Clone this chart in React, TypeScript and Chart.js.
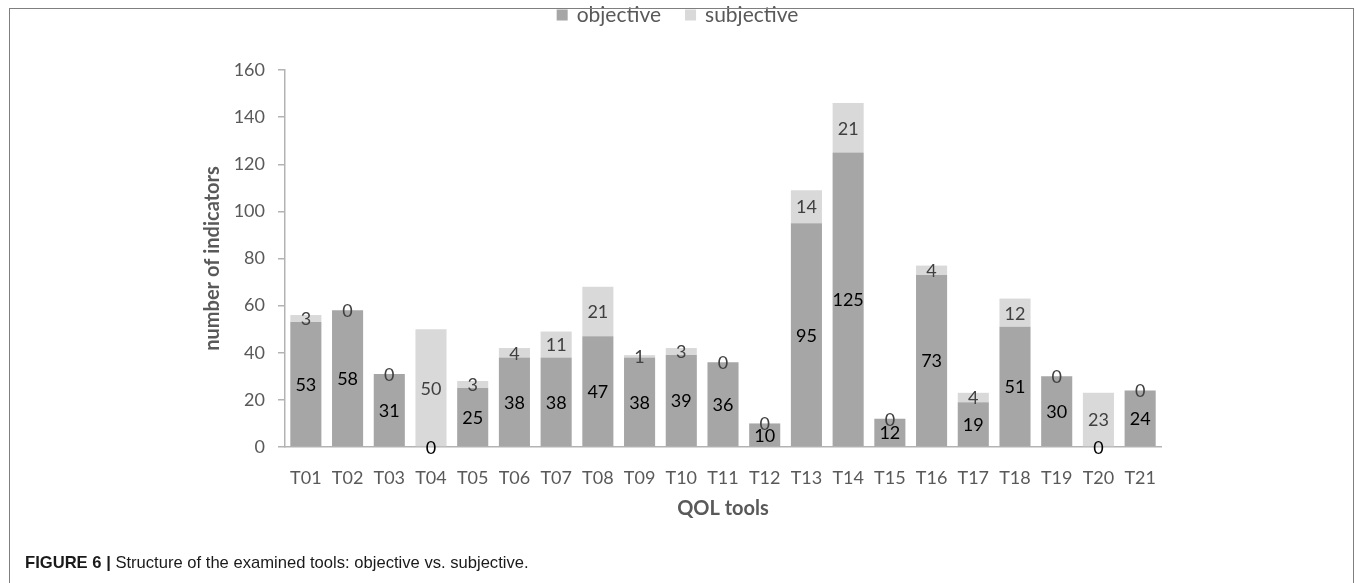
import React, { useEffect, useRef } from "react";
import { Chart, registerables } from "chart.js";

Chart.register(...registerables);

// QOL tools on the x axis
const categories = [
  "T01", "T02", "T03", "T04", "T05", "T06", "T07", "T08", "T09", "T10", "T11",
  "T12", "T13", "T14", "T15", "T16", "T17", "T18", "T19", "T20", "T21",
];

// number of objective indicators per tool
const objective = [53, 58, 31, 0, 25, 38, 38, 47, 38, 39, 36, 10, 95, 125, 12, 73, 19, 51, 30, 0, 24];

// number of subjective indicators per tool
const subjective = [3, 0, 0, 50, 3, 4, 11, 21, 1, 3, 0, 0, 14, 21, 0, 4, 4, 12, 0, 23, 0];

const seriesNames = ["objective", "subjective"];
const yMin = 0;
const yMax = 160;
const yStep = 20;

const FONT = "Lato, 'Open Sans', sans-serif";
const AXIS_TEXT = "#595959";
const AXIS_LINE = "#b3b3b3";
const OBJ_COLOR = "#a6a6a6";
const SUBJ_COLOR = "#d9d9d9";
const LABEL_COLORS = ["#000000", "#404040"];

// Writes each segment's value at the middle of its bar segment
const segmentLabels = {
  id: "segmentLabels",
  afterDatasetsDraw(chart: any) {
    const ctx = chart.ctx;
    ctx.save();
    ctx.font = `18px ${FONT}`;
    ctx.textAlign = "center";
    ctx.textBaseline = "middle";
    chart.data.datasets.forEach((ds: any, di: number) => {
      const meta = chart.getDatasetMeta(di);
      meta.data.forEach((bar: any, i: number) => {
        const { x, y, base } = bar.getProps(["x", "y", "base"], true);
        ctx.fillStyle = LABEL_COLORS[di];
        ctx.fillText(String(ds.data[i]), x, (y + base) / 2 + 1);
      });
    });
    ctx.restore();
  },
};

// Legend row centred above the plot
const topLegend = {
  id: "topLegend",
  afterDraw(chart: any) {
    const ctx = chart.ctx;
    ctx.save();
    ctx.font = `21px ${FONT}`;
    ctx.textBaseline = "middle";
    const box = 11;
    const gap = 9;
    const itemGap = 24;
    const items = chart.data.datasets.map((ds: any) => ({
      text: ds.label,
      color: ds.backgroundColor,
      w: ctx.measureText(ds.label).width,
    }));
    const total =
      items.reduce((s: number, it: any) => s + box + gap + it.w, 0) +
      itemGap * (items.length - 1);
    let x = chart.width / 2 - total / 2;
    const cy = 15;
    items.forEach((it: any) => {
      ctx.fillStyle = it.color;
      ctx.fillRect(x, cy - box / 2, box, box);
      x += box + gap;
      ctx.fillStyle = AXIS_TEXT;
      ctx.fillText(it.text, x, cy);
      x += it.w + itemGap;
    });
    ctx.restore();
  },
};

export default function App() {
  const canvasRef = useRef<HTMLCanvasElement | null>(null);

  useEffect(() => {
    if (!canvasRef.current) return;
    const chart = new Chart(canvasRef.current, {
      type: "bar",
      data: {
        labels: categories,
        datasets: [
          {
            label: seriesNames[0],
            data: objective,
            backgroundColor: OBJ_COLOR,
            barPercentage: 0.745,
            categoryPercentage: 1,
          },
          {
            label: seriesNames[1],
            data: subjective,
            backgroundColor: SUBJ_COLOR,
            barPercentage: 0.745,
            categoryPercentage: 1,
          },
        ],
      },
      options: {
        responsive: false,
        animation: false,
        devicePixelRatio: 1,
        layout: { padding: { left: 198, right: 194, top: 70, bottom: 58 } },
        plugins: {
          legend: { display: false },
          tooltip: { enabled: false },
        },
        scales: {
          x: {
            stacked: true,
            grid: { display: false },
            border: { display: true, color: AXIS_LINE, width: 1.5 },
            ticks: { color: AXIS_TEXT, font: { family: FONT, size: 18 }, padding: 12 },
            title: {
              display: true,
              text: "QOL tools",
              color: AXIS_TEXT,
              font: { family: FONT, size: 20, weight: "bold" },
              padding: { top: 4, bottom: 4 },
            },
            afterFit: (s: any) => {
              s.height = 78;
            },
          },
          y: {
            stacked: true,
            min: yMin,
            max: yMax,
            ticks: {
              stepSize: yStep,
              color: AXIS_TEXT,
              font: { family: FONT, size: 18 },
              padding: 13,
            },
            grid: {
              drawOnChartArea: false,
              drawTicks: true,
              tickLength: 7,
              color: AXIS_LINE,
              lineWidth: 1.5,
            },
            border: { display: true, color: AXIS_LINE, width: 1.5 },
            title: {
              display: true,
              text: "number of indicators",
              color: AXIS_TEXT,
              font: { family: FONT, size: 20, weight: "bold" },
              padding: { top: 3, bottom: 4 },
            },
            afterFit: (s: any) => {
              s.width = 87;
            },
          },
        },
      } as any,
      plugins: [segmentLabels, topLegend],
    });
    if ((document as any).fonts) {
      Promise.all([
        document.fonts.load(`18px Lato`),
        document.fonts.load(`bold 20px Lato`),
      ]).then(() => chart.update());
    }
    return () => chart.destroy();
  }, []);

  return (
    <div
      style={{
        position: "fixed",
        left: 0,
        top: 0,
        width: 1355,
        height: 583,
        overflow: "hidden",
        background: "#ffffff",
      }}
    >
      <canvas
        ref={canvasRef}
        width={1355}
        height={583}
        style={{ position: "absolute", left: 0, top: 0, width: 1355, height: 583 }}
      />
      <div
        style={{
          position: "absolute",
          left: 9,
          top: 8,
          width: 1343,
          height: 700,
          border: "1.5px solid #7f7f7f",
          pointerEvents: "none",
        }}
      />
      <div
        style={{
          position: "absolute",
          left: 25,
          top: 553,
          fontFamily: "'Liberation Sans', Arial, sans-serif",
          fontSize: 16.6,
          color: "#1a1a1a",
          whiteSpace: "nowrap",
          lineHeight: "20px",
        }}
      >
        <b>FIGURE 6 |</b> Structure of the examined tools: objective vs. subjective.
      </div>
    </div>
  );
}
